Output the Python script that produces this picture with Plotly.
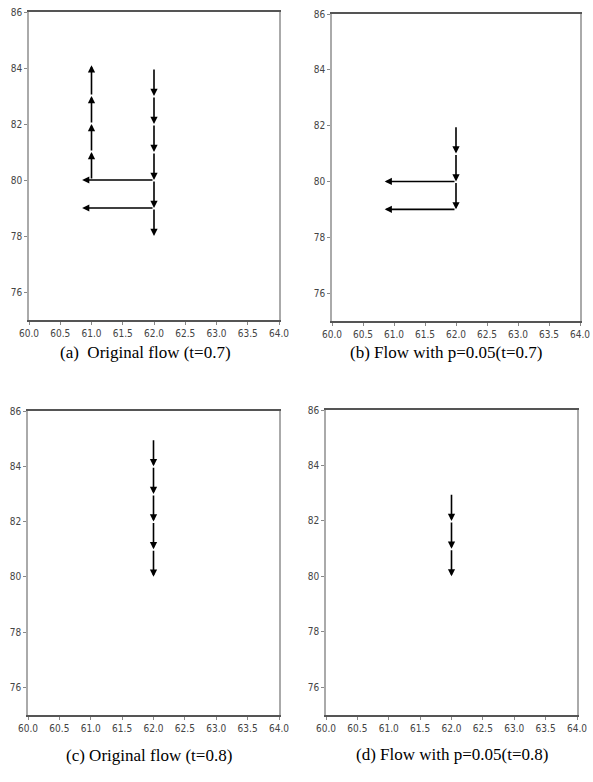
import plotly.graph_objects as go

# Arrow data per panel: tail (x0,y0) -> head (x1,y1)
a_x0 = [61, 61, 61, 61, 62, 62, 62, 62, 62, 62, 62, 62]
a_y0 = [80, 81, 82, 83, 84, 83, 82, 81, 80, 79, 80, 79]
a_x1 = [61, 61, 61, 61, 62, 62, 62, 62, 62, 62, 60.85, 60.85]
a_y1 = [81, 82, 83, 84.1, 83, 82, 81, 80, 79, 78, 80, 79]

b_x0 = [62, 62, 62, 62, 62]
b_y0 = [82, 81, 80, 80, 79]
b_x1 = [62, 62, 62, 60.85, 60.85]
b_y1 = [81, 80, 79, 80, 79]

c_x0 = [62, 62, 62, 62, 62]
c_y0 = [85, 84, 83, 82, 81]
c_x1 = [62, 62, 62, 62, 62]
c_y1 = [84, 83, 82, 81, 80]

d_x0 = [62, 62, 62]
d_y0 = [83, 82, 81]
d_x1 = [62, 62, 62]
d_y1 = [82, 81, 80]

captions = ["(a)  Original flow (t=0.7)", "(b) Flow with p=0.05(t=0.7)",
            "(c) Original flow (t=0.8)", "(d) Flow with p=0.05(t=0.8)"]

x_range = [60, 64]
y_range = [75, 86]
x_ticks = [60.0, 60.5, 61.0, 61.5, 62.0, 62.5, 63.0, 63.5, 64.0]
y_ticks = [76, 78, 80, 82, 84, 86]

W, H = 593, 782
# panel pixel boxes: left, right, top, bottom
boxes = [(29, 279, 12, 320), (332, 580, 14, 321), (28, 279, 411, 715), (326, 577, 410, 715)]
cap_pos = [(145, 352), (446, 352), (149, 755), (452, 754)]

panels = [(a_x0, a_y0, a_x1, a_y1), (b_x0, b_y0, b_x1, b_y1),
          (c_x0, c_y0, c_x1, c_y1), (d_x0, d_y0, d_x1, d_y1)]

fig = go.Figure()
layout = dict(width=W, height=H, margin=dict(l=0, r=0, t=0, b=0, autoexpand=False),
              paper_bgcolor="white", plot_bgcolor="white", showlegend=False)
annotations = []
tick_font = dict(family="Liberation Sans Narrow, DejaVu Sans Condensed, Arial Narrow, sans-serif",
                 size=10, color="#444444")

for i, (box, data) in enumerate(zip(boxes, panels)):
    n = "" if i == 0 else str(i + 1)
    l, r, t, b = box
    xd = [l / W, r / W]
    yd = [1 - b / H, 1 - t / H]
    layout["xaxis" + n] = dict(domain=xd, range=x_range, tickvals=x_ticks,
                               ticktext=[f"{v:.1f}" for v in x_ticks],
                               showgrid=False, zeroline=False, showline=True, mirror=True,
                               linecolor="#555555", linewidth=2, ticks="outside", ticklen=3,
                               tickcolor="#888888", tickfont=tick_font, anchor="y" + n,
                               fixedrange=True, automargin=False)
    layout["yaxis" + n] = dict(domain=yd, range=y_range, tickvals=y_ticks,
                               showgrid=False, zeroline=False, showline=True, mirror=True,
                               linecolor="#aaaaaa", linewidth=1.5, ticks="outside", ticklen=3,
                               tickcolor="#888888", tickfont=tick_font, anchor="x" + n,
                               fixedrange=True, automargin=False)
    fig.add_trace(go.Scatter(x=[None], y=[None], xaxis="x" + n, yaxis="y" + n,
                             mode="markers", hoverinfo="skip"))
    x0s, y0s, x1s, y1s = data
    for x0, y0, x1, y1 in zip(x0s, y0s, x1s, y1s):
        annotations.append(dict(x=x1, y=y1, ax=x0, ay=y0,
                                xref="x" + n, yref="y" + n, axref="x" + n, ayref="y" + n,
                                showarrow=True, arrowhead=2, arrowsize=0.9, arrowwidth=1.6,
                                arrowcolor="black", standoff=0, text=""))
    cx, cy = cap_pos[i]
    annotations.append(dict(x=cx / W, y=1 - cy / H, xref="paper", yref="paper",
                            text=captions[i], showarrow=False, xanchor="center", yanchor="middle",
                            font=dict(family="Liberation Serif, Times New Roman, serif",
                                      size=17, color="black")))

layout["annotations"] = annotations
fig.update_layout(**layout)
fig.write_html("out.html", config={"displayModeBar": False},
               post_script="document.body.style.margin='0';document.body.style.overflow='hidden';")
